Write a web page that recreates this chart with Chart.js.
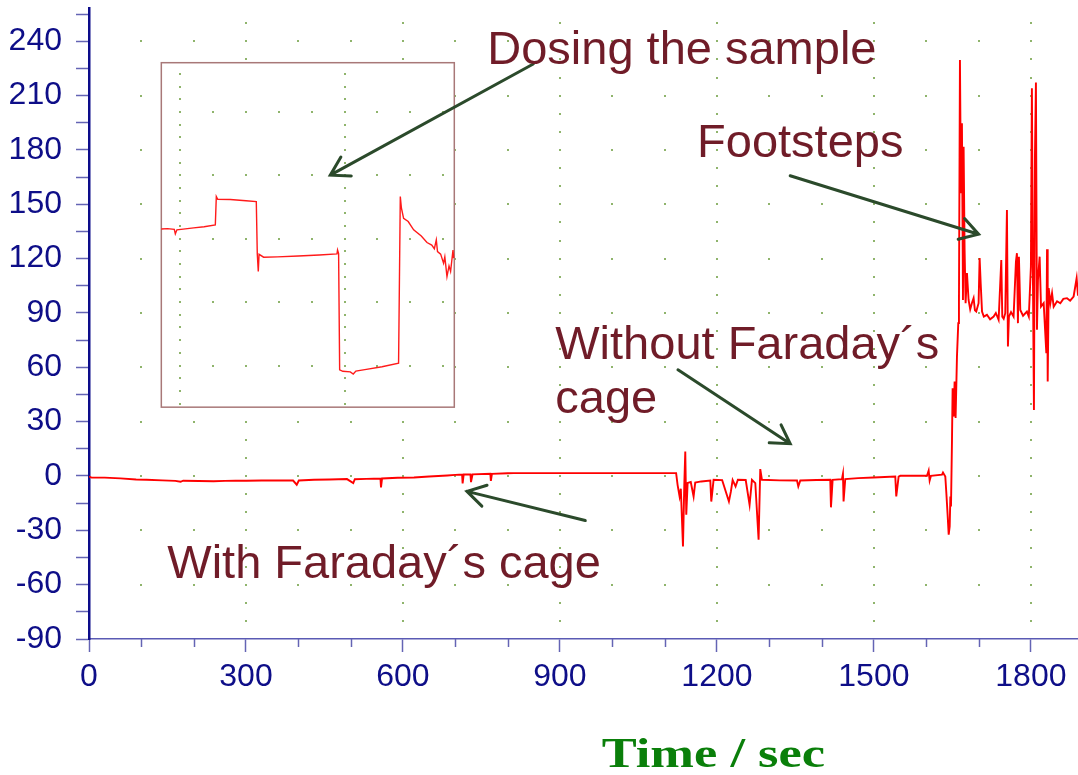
<!DOCTYPE html>
<html>
<head>
<meta charset="utf-8">
<script src="https://cdn.jsdelivr.net/npm/chart.js@4.4.1/dist/chart.umd.min.js"></script>
<style>
  html, body { margin: 0; padding: 0; background: #fff; }
  canvas { display: block; }
</style>
</head>
<body>
<canvas id="chart" width="1078" height="775"></canvas>
<script>
// --- data (time in s, signal in arbitrary units) ---

// quiet part, inside the Faraday cage
const quietTimes = [
  0, 5, 30, 60, 90, 110,
  140, 165, 175, 180, 210, 238,
  260, 280, 301, 330, 360, 390,
  397, 401, 430, 460, 493, 505,
  508, 530, 557, 558, 560, 590,
  621, 650, 685, 700, 713, 714,
  716, 729, 730, 733, 767, 768,
  770, 800, 811, 900, 1000, 1122,
];
const quietValues = [
  -0.3, -0.9, -0.9, -1.3, -1.9, -2.1,
  -2.4, -2.7, -3.2, -2.6, -2.8, -2.9,
  -2.7, -2.6, -2.6, -2.5, -2.4, -2.5,
  -4.8, -2.5, -2.1, -1.9, -1.7, -3.9,
  -1.8, -1.6, -1.4, -6.3, -1.4, -1.0,
  -0.8, -0.3, 0.3, 0.6, 0.8, -4.1,
  0.8, 0.9, -3.4, 0.9, 1.2, -2.7,
  1.2, 1.5, 1.6, 1.6, 1.6, 1.6,
];

// cage removed
const openTimes = [
  1124.8, 1128.6, 1131, 1135.1, 1137.6, 1139.5,
  1141.4, 1144, 1150, 1155.4, 1158.5, 1170,
  1187.3, 1189.2, 1193.6, 1210, 1222.9, 1226.7,
  1230, 1235.6, 1240, 1255, 1262.4, 1266.9,
  1273.3, 1279.6, 1282.8, 1286, 1320, 1353,
  1355.5, 1359.3, 1390, 1416.6, 1417.9, 1421.1,
  1438.9, 1440.8, 1442, 1445.2, 1470, 1499.4,
  1540.8, 1542.7, 1547.2, 1550.4, 1580, 1601.4,
  1604.6, 1606.5, 1609, 1630.1, 1632, 1636.4,
  1638.4, 1641, 1642.9, 1644.8, 1646.1, 1647.3,
];
const openValues = [
  -4.9, -11.3, -7, -38.9, -5, 13.5,
  -21.4, -3.9, -3.3, -11.3, -3.6, -3.0,
  -2.5, -14.1, -2.1, -2.3, -14.1, -8.5,
  -2.2, -5.8, -2.1, -2.2, -15.9, -2.1,
  -3.9, -35.2, 3.8, -2.1, -2.4, -2.5,
  -5.8, -2.5, -2.2, -2.1, -17.3, -2.1,
  -1.7, 1.2, -14.1, -1.7, -1.2, -0.8,
  -0.3, -11.3, -0.3, 0.1, 0.1, 0.1,
  3.0, -2.5, 0.1, 0.7, 1.9, -0.3,
  -9.4, -22.3, -32.4, -27.9, -11.3, -16.8,
];

// footsteps
const stepTimes = [
  1649.2, 1650.4, 1652.3, 1654.2, 1656.1, 1658.7,
  1661.2, 1662.5, 1664.4, 1666.3, 1668.2, 1670.2,
  1671.4, 1673.3, 1675.2, 1677.8, 1680.9, 1684,
  1687.3, 1690.5, 1693, 1695.6, 1700, 1702,
  1704, 1706.6, 1710, 1716, 1722, 1728.8,
  1733, 1738.3, 1743.4, 1745.3, 1748, 1751,
  1754.2, 1756.1, 1758, 1762, 1766.9, 1771.4,
  1773.3, 1775.2, 1777.1, 1779.7, 1785, 1792.4,
  1796, 1800, 1801.9, 1803.8, 1805.8, 1807.7,
  1809.6, 1811.6, 1813.5, 1816.7, 1819.3, 1824.4,
  1829.5, 1830.8, 1832.1, 1834, 1837.2, 1840.4,
  1843.5, 1850, 1856.2, 1862, 1869, 1875,
  1881.6, 1887.4, 1890,
];
const stepValues = [
  20.0, 48.5, 32.8, 52.2, 32.0, 66.0,
  84.4, 95.4, 229.7, 156.1, 194.8, 97.2,
  181.8, 124.8, 95.4, 112.0, 97.2, 92.0,
  95.5, 98.2, 91.5, 90.8, 95.4, 120.3,
  106.5, 90.8, 88.0, 89.0, 86.5, 88.0,
  90.0, 86.2, 119.3, 88.0, 86.8, 89.9,
  146.9, 71.5, 88.0, 90.5, 88.0, 118.4,
  123.0, 84.4, 121.1, 91.7, 88.5, 90.8,
  88.0, 115.6, 214.1, 112.0, 36.5, 176.3,
  217.2, 80.7, 108.3, 121.1, 93.5, 95.4,
  67.8, 125.2, 52.2, 103.7, 95.4, 100.9,
  93.5, 96.5, 95.4, 97.8, 98.2, 96.8,
  99.1, 109.2, 99.5,
];

// inset trace (dosing the sample), read in the main chart's units
const insetTimes = [
  138.2, 150, 163, 165, 168, 180, 200, 220, 241.4, 243.3,
  246, 270, 300, 319.7, 321.6, 323.5, 325, 333.7, 360, 400,
  440, 473.9, 475, 477, 479, 485, 499.3, 505, 510, 530,
  560, 591.6, 594.9, 597, 601.2, 610, 620.4, 635, 645.9, 655,
  660, 663.7, 666, 672, 677.6, 680, 684.1, 688, 691, 695.6,
  696.8,
];
const insetValues = [
  136.4, 136.6, 136.2, 133.7, 135.9, 136.3, 137.0, 137.6, 138.6, 154.3,
  152.8, 152.7, 152.0, 151.5, 122.6, 112.9, 122.4, 120.8, 121.0, 121.5,
  122.0, 122.6, 124.8, 122.8, 58.6, 57.8, 57.5, 56.3, 57.9, 58.9,
  60.3, 62.3, 154.3, 148, 142.3, 140.5, 135.9, 132.5, 128.9, 127.5,
  125.5, 130.4, 123.9, 122.5, 117.5, 121, 110.1, 116, 113, 124.8,
  120.3,
];

// axis ticks (minor ones carry no label)
const xTickValues = [0, 100, 200, 300, 400, 500, 600, 700, 800, 900,
  1000, 1100, 1200, 1300, 1400, 1500, 1600, 1700, 1800];
const xLabelValues = [0, 300, 600, 900, 1200, 1500, 1800];
const yTickValues = [-90, -75, -60, -45, -30, -15, 0, 15, 30, 45, 60, 75,
  90, 105, 120, 135, 150, 165, 180, 195, 210, 225, 240, 255];
const yLabelValues = [-90, -60, -30, 0, 30, 60, 90, 120, 150, 180, 210, 240];

// inset frame and its own dotted grid
const insetBox = { t0: 138.2, t1: 698.1, v0: 38.0, v1: 228.2 };
const insetGridTimes = [174.5, 488.4];
const insetGridValues = [201.0, 166.0, 131.0, 96.0, 61.0];
const insetTimeStep = 62.8;
const insetValueStep = 7.0;

// annotations
const notes = [
  { text: 'Dosing the sample', t: 761, v: 227.5 },
  { text: 'Footsteps', t: 1162, v: 176.2 },
  { text: 'Without Faraday\u00b4s', t: 891, v: 64.5 },
  { text: 'cage', t: 891, v: 34.7 },
  { text: 'With Faraday\u00b4s cage', t: 149.6, v: -56.3 },
];
const arrows = [
  { from: [849, 227.5], to: [461.1, 166.1] },
  { from: [1340, 165.8], to: [1700, 133.5] },
  { from: [1125.5, 58.6], to: [1340, 17.8] },
  { from: [948.4, -24.6], to: [722.3, -8.5] },
];

const NAVY = '#0e0e88';
const TICK_BLUE = '#6464b4';
const DOT_GREEN = '#8fb46c';
const FONT = '"Liberation Sans", Arial, sans-serif';

const toPoints = (ts, vs) => ts.map((t, i) => ({ x: t, y: vs[i] }));

const mainTimes = quietTimes.concat(openTimes, stepTimes);
const mainValues = quietValues.concat(openValues, stepValues);

function dot(ctx, x, y) {
  ctx.fillRect(Math.round(x) - 1, Math.round(y) - 1, 2, 2);
}

// dotted grid + inset frame, under the traces
const backdrop = {
  id: 'backdrop',
  beforeDatasetsDraw(chart) {
    const { ctx, scales: { x, y } } = chart;
    ctx.save();
    ctx.fillStyle = DOT_GREEN;
    for (let v = -60; v <= 240; v += 30) {
      for (let t = 100; t <= 1800; t += 100) dot(ctx, x.getPixelForValue(t), y.getPixelForValue(v));
    }
    for (let t = 300; t <= 1800; t += 300) {
      for (let v = -80; v <= 250; v += 10) dot(ctx, x.getPixelForValue(t), y.getPixelForValue(v));
    }

    // inset
    const bx0 = x.getPixelForValue(insetBox.t0), bx1 = x.getPixelForValue(insetBox.t1);
    const by0 = y.getPixelForValue(insetBox.v1), by1 = y.getPixelForValue(insetBox.v0);
    ctx.fillStyle = '#ffffff';
    ctx.fillRect(bx0, by0, bx1 - bx0, by1 - by0);
    ctx.fillStyle = DOT_GREEN;
    insetGridValues.forEach(v => {
      for (let t = insetGridTimes[0]; t < insetBox.t1; t += insetTimeStep) {
        dot(ctx, x.getPixelForValue(t), y.getPixelForValue(v));
      }
    });
    insetGridTimes.forEach(t => {
      for (let v = insetGridValues[4]; v < insetBox.v1; v += insetValueStep) dot(ctx, x.getPixelForValue(t), y.getPixelForValue(v));
      for (let v = insetGridValues[4] - insetValueStep; v > insetBox.v0; v -= insetValueStep) dot(ctx, x.getPixelForValue(t), y.getPixelForValue(v));
    });
    ctx.strokeStyle = '#a87878';
    ctx.lineWidth = 1.5;
    ctx.strokeRect(bx0, by0, bx1 - bx0, by1 - by0);
    ctx.restore();
  },
};

// arrows, notes, minor x ticks, axis title
const overlay = {
  id: 'overlay',
  afterDatasetsDraw(chart) {
    const { ctx, chartArea, scales: { x, y } } = chart;
    ctx.save();

    ctx.strokeStyle = '#2b4a2b';
    ctx.lineWidth = 3;
    ctx.lineCap = 'round';
    arrows.forEach(a => {
      const x1 = x.getPixelForValue(a.from[0]), y1 = y.getPixelForValue(a.from[1]);
      const x2 = x.getPixelForValue(a.to[0]), y2 = y.getPixelForValue(a.to[1]);
      const ang = Math.atan2(y1 - y2, x1 - x2);
      const len = 21, spread = 0.54;
      ctx.beginPath();
      ctx.moveTo(x1, y1);
      ctx.lineTo(x2, y2);
      ctx.moveTo(x2 + len * Math.cos(ang + spread), y2 + len * Math.sin(ang + spread));
      ctx.lineTo(x2, y2);
      ctx.lineTo(x2 + len * Math.cos(ang - spread), y2 + len * Math.sin(ang - spread));
      ctx.stroke();
    });

    ctx.fillStyle = '#701c28';
    ctx.font = '47px ' + FONT;
    ctx.textAlign = 'left';
    ctx.textBaseline = 'alphabetic';
    notes.forEach(n => ctx.fillText(n.text, x.getPixelForValue(n.t), y.getPixelForValue(n.v)));

    // minor ticks on the time axis
    ctx.strokeStyle = TICK_BLUE;
    ctx.lineWidth = 1.5;
    ctx.lineCap = 'butt';
    xTickValues.forEach(t => {
      if (xLabelValues.includes(t)) return;
      const px = Math.round(x.getPixelForValue(t)) + 0.5;
      ctx.beginPath();
      ctx.moveTo(px, chartArea.bottom);
      ctx.lineTo(px, chartArea.bottom + 8);
      ctx.stroke();
    });

    // axis title
    ctx.fillStyle = '#0a7f0a';
    ctx.font = 'bold 43px "Liberation Serif", "Times New Roman", serif';
    ctx.translate(601.7, chartArea.bottom + 127.7);
    ctx.scale(1.22, 1);
    ctx.fillText('Time / sec', 0, 0);
    ctx.restore();
  },
};

new Chart(document.getElementById('chart'), {
  type: 'line',
  data: {
    datasets: [
      {
        data: toPoints(mainTimes, mainValues),
        borderColor: '#ff0000',
        borderWidth: 1.9,
        pointRadius: 0,
        tension: 0,
      },
      {
        data: toPoints(insetTimes, insetValues),
        borderColor: '#ff1a1a',
        borderWidth: 1.4,
        pointRadius: 0,
        tension: 0,
      },
    ],
  },
  options: {
    responsive: false,
    animation: false,
    layout: { padding: { top: 8, right: 0, left: 0, bottom: 0 } },
    plugins: {
      legend: { display: false },
      tooltip: { enabled: false },
    },
    scales: {
      x: {
        type: 'linear',
        min: 0,
        max: 1890,
        afterBuildTicks: scale => { scale.ticks = xTickValues.map(v => ({ value: v })); },
        afterFit: scale => {
          scale.height = 136;
          scale.paddingLeft = 0;
          scale.paddingRight = 0;
        },
        ticks: {
          autoSkip: false,
          maxRotation: 0,
          minRotation: 0,
          padding: 6,
          color: NAVY,
          font: { family: FONT, size: 32 },
          callback: v => (xLabelValues.includes(v) ? String(v) : ''),
        },
        grid: {
          drawOnChartArea: false,
          drawTicks: true,
          tickLength: 13,
          tickWidth: 1.5,
          tickColor: ctx => (ctx.tick && xLabelValues.includes(ctx.tick.value) ? TICK_BLUE : 'rgba(0,0,0,0)'),
        },
        border: { color: '#5a5ab4', width: 1.5 },
      },
      y: {
        min: -90,
        max: 258.4,
        afterBuildTicks: scale => { scale.ticks = yTickValues.map(v => ({ value: v })); },
        afterFit: scale => {
          scale.width = 89;
          scale.paddingTop = 0;
          scale.paddingBottom = 0;
        },
        ticks: {
          autoSkip: false,
          padding: 14,
          color: NAVY,
          font: { family: FONT, size: 32 },
          callback: v => (yLabelValues.includes(v) ? String(v) : ''),
        },
        grid: {
          drawOnChartArea: false,
          drawTicks: true,
          tickLength: 13,
          tickWidth: 1.5,
          tickColor: TICK_BLUE,
        },
        border: { color: '#0c0c8a', width: 2.5 },
      },
    },
  },
  plugins: [backdrop, overlay],
});
</script>
</body>
</html>
